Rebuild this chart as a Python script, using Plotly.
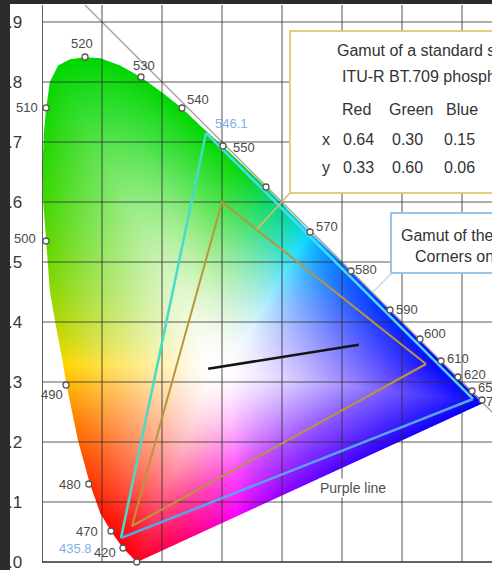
import base64
import struct
import zlib

import numpy as np
import plotly.graph_objects as go

# ---------------------------------------------------------------------------
# Data
# ---------------------------------------------------------------------------
# Outline of the spectral locus (chromaticity x, y), from the violet end
# up the left side, over the top and down to the red end.
LOCUS_X = [0.158, 0.135, 0.115, 0.097, 0.080, 0.060, 0.041, 0.033, 0.022,
           0.013, 0.007, 0.002, 0.001, 0.003, 0.007, 0.013, 0.027, 0.047,
           0.0717, 0.097, 0.130, 0.165, 0.2017, 0.2333, 0.2683, 0.3017,
           0.3733, 0.4467, 0.515, 0.580, 0.630, 0.665, 0.6933, 0.7167,
           0.7333, 0.735]
LOCUS_Y = [0.000, 0.0233, 0.0517, 0.082, 0.130, 0.203, 0.295, 0.342, 0.400,
           0.453, 0.535, 0.600, 0.660, 0.715, 0.757, 0.800, 0.828, 0.8383,
           0.8417, 0.840, 0.828, 0.8083, 0.7817, 0.7567, 0.7233, 0.6933,
           0.625, 0.550, 0.485, 0.420, 0.3717, 0.335, 0.3083, 0.285,
           0.270, 0.265]

# Wavelength marks on the locus (nm) and their chromaticities
MARK_NM = [390, 420, 470, 480, 490, 500, 510, 520, 530, 540, 550, 560,
           570, 580, 590, 600, 610, 620, 650, 700]
MARK_X = [0.158, 0.135, 0.115, 0.078, 0.040, 0.0067, 0.0067, 0.0717, 0.165,
          0.2333, 0.3017, 0.3733, 0.4467, 0.515, 0.580, 0.630, 0.665, 0.6933,
          0.7167, 0.7333]
MARK_Y = [0.000, 0.0233, 0.0517, 0.130, 0.295, 0.535, 0.757, 0.8417, 0.8083,
          0.7567, 0.6933, 0.625, 0.550, 0.485, 0.420, 0.3717, 0.335, 0.3083,
          0.285, 0.270]
# Wavelengths whose label is drawn
LABELLED_NM = [390, 420, 470, 480, 490, 500, 510, 520, 530, 540, 550,
               570, 580, 590, 600, 610, 620, 650, 700]

# Whitest point of the colour field
WHITE_XY = (0.29, 0.32)

# ITU-R BT.709 primaries
BT709_NAMES = ["Red", "Green", "Blue"]
BT709_X = [0.64, 0.30, 0.15]
BT709_Y = [0.33, 0.60, 0.06]

# CIE RGB primaries (monochromatic, nm)
CIE_RGB_NM = [435.8, 546.1, 700.0]
CIE_RGB_X = [0.1317, 0.2733, 0.7183]
CIE_RGB_Y = [0.040, 0.715, 0.2717]

# Segment drawn in black
SEG_X = [0.277, 0.528]
SEG_Y = [0.322, 0.362]

X_TICKS = [0.0, 0.1, 0.2, 0.3, 0.4, 0.5, 0.6, 0.7]
Y_TICKS = [0.0, 0.1, 0.2, 0.3, 0.4, 0.5, 0.6, 0.7, 0.8, 0.9]
Y_TICKTEXT = [".0", ".1", ".2", ".3", ".4", ".5", ".6", ".7", ".8", ".9"]

# ---------------------------------------------------------------------------
# Styling
# ---------------------------------------------------------------------------
W, H = 492, 570
M_L, M_T = 42, 5
PPU = 600.0                       # screen pixels per chromaticity unit
X_RANGE = [0.0, (W - M_L) / PPU]
Y_RANGE = [-8 / PPU, (H - M_T - 8) / PPU]

SANS = "Liberation Sans, Arial, sans-serif"
LABEL_FONT = dict(family=SANS, size=13, color="#4a4a4a")
BOX_FONT = dict(family=SANS, size=16, color="#333333")
TICK_FONT = dict(family=SANS, size=17, color="#3a3a3a")
# label offsets (pixels) from each wavelength mark
LABEL_SHIFT = {390: (0, -13), 420: (-18, -4), 470: (-24, -1), 480: (-19, 0),
               490: (-14, -9), 500: (-21, 3), 510: (-19, 0), 520: (-3, 13),
               530: (3, 12), 540: (16, 8), 550: (21, -1), 570: (17, 6),
               580: (15, 2), 590: (17, 1), 600: (15, 5), 610: (17, 3),
               620: (17, 3), 650: (17, 4), 700: (15, -1)}


# ---------------------------------------------------------------------------
# Colour field inside the locus
# ---------------------------------------------------------------------------
def png_data_uri(rgba):
    h, w, _ = rgba.shape
    raw = b"".join(b"\x00" + rgba[r].tobytes() for r in range(h))

    def chunk(tag, data):
        c = struct.pack(">I", len(data)) + tag + data
        return c + struct.pack(">I", zlib.crc32(tag + data) & 0xFFFFFFFF)

    png = (b"\x89PNG\r\n\x1a\n"
           + chunk(b"IHDR", struct.pack(">IIBBBBB", w, h, 8, 6, 0, 0, 0))
           + chunk(b"IDAT", zlib.compress(raw, 9))
           + chunk(b"IEND", b""))
    return "data:image/png;base64," + base64.b64encode(png).decode()


def locus_mask(px, py):
    inside = np.zeros(px.shape, bool)
    for k in range(len(LOCUS_X)):
        xi, yi = LOCUS_X[k], LOCUS_Y[k]
        xj, yj = LOCUS_X[k - 1], LOCUS_Y[k - 1]
        if yi == yj:
            continue
        cross = (yi > py) != (yj > py)
        xint = (xj - xi) * (py - yi) / (yj - yi) + xi
        inside ^= cross & (px < xint)
    return inside


def boundary_fraction(px, py):
    """Relative distance of each point from the white point to the locus."""
    wx, wy = WHITE_XY
    dx, dy = px - wx, py - wy
    tmin = np.full(px.shape, np.inf)
    for k in range(len(LOCUS_X)):
        ax, ay = LOCUS_X[k - 1], LOCUS_Y[k - 1]
        ex, ey = LOCUS_X[k] - ax, LOCUS_Y[k] - ay
        den = dx * ey - dy * ex
        with np.errstate(divide="ignore", invalid="ignore"):
            t = ((ax - wx) * ey - (ay - wy) * ex) / den
            u = ((ax - wx) * dy - (ay - wy) * dx) / den
        ok = (u >= 0) & (u <= 1) & (t > 0) & np.isfinite(t)
        tmin = np.where(ok & (t < tmin), t, tmin)
    return np.clip(1.0 / tmin, 0, 1)


def chroma_rgb(cx, cy):
    """Hue of each chromaticity: linear RGB, clipped and scaled to max 1."""
    cy = np.maximum(cy, 0.004)
    X = cx / cy
    Z = (1.0 - cx - cy) / cy
    r = 3.2406 * X - 1.5372 - 0.4986 * Z
    g = -0.9689 * X + 1.8758 + 0.0415 * Z
    b = 0.0557 * X - 0.2040 + 1.0570 * Z
    rgb = np.clip(np.stack([r, g, b], -1), 0, None)
    rgb /= np.maximum(rgb.max(-1, keepdims=True), 1e-9)
    # channel order used by this diagram: blue and red exchanged
    return rgb[..., ::-1]


nx = int(round(0.75 * PPU))
y_lo = -0.008
ny = int(round((0.86 - y_lo) * PPU))
SS = 3
sx = (np.arange(nx * SS) + 0.5) / (PPU * SS)
sy = y_lo + (np.arange(ny * SS) + 0.5) / (PPU * SS)
SX, SY = np.meshgrid(sx, sy)
alpha = locus_mask(SX, SY).reshape(ny, SS, nx, SS).mean(axis=(1, 3))

cx = (np.arange(nx) + 0.5) / PPU
cy = y_lo + (np.arange(ny) + 0.5) / PPU
CX, CY = np.meshgrid(cx, cy)
hue = chroma_rgb(CX, CY)
sat = boundary_fraction(CX, CY) ** 1.15
rgb = 1.0 - sat[..., None] * (1.0 - hue)
rgb[..., 1] *= 1.0 - 0.16 * sat
rgba = np.concatenate([rgb, alpha[..., None]], -1)
rgba = np.clip(np.round(rgba * 255), 0, 255).astype(np.uint8)

fig = go.Figure()
fig.add_trace(go.Image(source=png_data_uri(rgba), x0=cx[0], y0=cy[0],
                       dx=1 / PPU, dy=1 / PPU, hoverinfo="skip"))

# x + y = 1 reference line
fig.add_trace(go.Scatter(x=[0.0, 0.8], y=[1.0, 0.2], mode="lines",
                         line=dict(color="#a3a3a3", width=1.4),
                         hoverinfo="skip"))

# grid drawn over the colour field
gx, gy = [], []
for t in X_TICKS[1:]:
    gx += [t, t, None]
    gy += [0.0, 1.0, None]
for t in Y_TICKS[1:]:
    gx += [0.0, 0.8, None]
    gy += [t, t, None]
fig.add_trace(go.Scatter(x=gx, y=gy, mode="lines",
                         line=dict(color="rgba(45,45,45,0.52)", width=1.6),
                         hoverinfo="skip"))
fig.add_trace(go.Scatter(x=[X_TICKS[0], X_TICKS[0], None, 0.0, 0.8],
                         y=[Y_TICKS[0], 1.0, None, Y_TICKS[0], Y_TICKS[0]],
                         mode="lines",
                         line=dict(color="rgba(40,40,40,0.72)", width=2),
                         hoverinfo="skip"))

# BT.709 gamut triangle
fig.add_trace(go.Scatter(x=BT709_X + BT709_X[:1], y=BT709_Y + BT709_Y[:1],
                         mode="lines", line=dict(color="#b8963c", width=2),
                         hoverinfo="skip"))

# CIE RGB gamut triangle (each side drawn separately)
tri_colors = ["#46dcc8", "#52d4f4", "#5aa4ec"]
for k, col in enumerate(tri_colors):
    a, b = k, (k + 1) % 3
    fig.add_trace(go.Scatter(x=[CIE_RGB_X[a], CIE_RGB_X[b]],
                             y=[CIE_RGB_Y[a], CIE_RGB_Y[b]], mode="lines",
                             line=dict(color=col, width=2.5),
                             hoverinfo="skip"))

fig.add_trace(go.Scatter(x=SEG_X, y=SEG_Y, mode="lines",
                         line=dict(color="#141414", width=2.6),
                         hoverinfo="skip"))

fig.add_trace(go.Scatter(x=MARK_X, y=MARK_Y, mode="markers",
                         marker=dict(size=6, color="white",
                                     line=dict(color="#555555", width=1.3)),
                         hoverinfo="skip"))

annotations = []
# y-axis tick labels
for t, txt in zip(Y_TICKS, Y_TICKTEXT):
    annotations.append(dict(x=(24 - M_L) / (W - M_L), y=t, xref="paper",
                            yref="y", text=txt, showarrow=False,
                            xanchor="right", yanchor="middle",
                            font=TICK_FONT))

for nm, x, y in zip(MARK_NM, MARK_X, MARK_Y):
    if nm not in LABELLED_NM:
        continue
    dx, dy = LABEL_SHIFT[nm]
    annotations.append(dict(x=x, y=y, xref="x", yref="y", text=str(nm),
                            showarrow=False, xshift=dx, yshift=dy,
                            font=LABEL_FONT))

prim_shift = {435.8: (-46, -10), 546.1: (26, 10)}
for nm, x, y in zip(CIE_RGB_NM, CIE_RGB_X, CIE_RGB_Y):
    if nm in prim_shift:
        dx, dy = prim_shift[nm]
        annotations.append(dict(x=x, y=y, xref="x", yref="y", text=f"{nm:.1f}",
                                showarrow=False, xshift=dx, yshift=dy,
                                font=dict(LABEL_FONT, color="#7cb2e8")))

annotations.append(dict(x=0.5183, y=0.1233, xref="x", yref="y",
                        text="Purple line", showarrow=False,
                        bgcolor="white", borderpad=1,
                        font=dict(family=SANS, size=14, color="#505050")))


def box_text(x, y, text, font=BOX_FONT):
    annotations.append(dict(x=x, y=y, xref="x", yref="y", text=text,
                            showarrow=False, xanchor="left", yanchor="middle",
                            font=font))


# BT.709 call-out
box_text(0.4883, 0.8533, "Gamut of a standard sRGB monitor")
box_text(0.4967, 0.8100, "ITU-R BT.709 phosphors")
for name, cxp in zip(BT709_NAMES, [0.4967, 0.575, 0.670]):
    box_text(cxp, 0.7550, name)
box_text(0.4633, 0.7050, "x")
box_text(0.4633, 0.6567, "y")
for vx, vy, cxp in zip(BT709_X, BT709_Y, [0.4983, 0.580, 0.6667]):
    box_text(cxp, 0.7050, f"{vx:.2f}")
    box_text(cxp, 0.6567, f"{vy:.2f}")

# CIE RGB call-out
box_text(0.5950, 0.5450, "Gamut of the CIE RGB primaries")
box_text(0.6183, 0.5100, "Corners on 435.8, 546.1 and 700 nm")

shapes = [
    # call-out boxes and their leaders
    dict(type="rect", xref="x", yref="y", x0=0.4133, x1=0.9, y0=0.615,
         y1=0.885, fillcolor="white", line=dict(color="#e6cb7e", width=2),
         layer="above"),
    dict(type="line", xref="x", yref="y", x0=0.4133, y0=0.615, x1=0.358,
         y1=0.5545, line=dict(color="#d9bd6c", width=1.6), layer="above"),
    dict(type="rect", xref="x", yref="y", x0=0.5817, x1=0.9, y0=0.4817,
         y1=0.5817, fillcolor="white", line=dict(color="#96c4ea", width=2),
         layer="above"),
    dict(type="line", xref="x", yref="y", x0=0.5833, y0=0.4817, x1=0.5517,
         y1=0.4500, line=dict(color="#c4dcf0", width=1.6), layer="above"),
    # dark frame strips at the left and top
    dict(type="rect", xref="paper", yref="paper", x0=-M_L / (W - M_L),
         x1=(10 - M_L) / (W - M_L), y0=-0.01, y1=1.02,
         fillcolor="#2b2b2b", line=dict(width=0), layer="above"),
    dict(type="rect", xref="paper", yref="paper", x0=-M_L / (W - M_L),
         x1=1.01, y0=1.0 + 1 / (H - M_T), y1=1.02,
         fillcolor="#2b2b2b", line=dict(width=0), layer="above"),
]

fig.update_layout(
    width=W, height=H,
    margin=dict(l=M_L, r=0, t=M_T, b=0, pad=0),
    paper_bgcolor="white", plot_bgcolor="white",
    showlegend=False,
    xaxis=dict(range=X_RANGE, autorange=False, showgrid=False,
               zeroline=False, showticklabels=False, showline=False,
               ticks="", fixedrange=True, constrain="range"),
    yaxis=dict(range=Y_RANGE, autorange=False, showgrid=False,
               zeroline=False, showline=False, showticklabels=False,
               ticks="", fixedrange=True),
    annotations=annotations,
    shapes=shapes,
)

fig.write_html("out.html")
